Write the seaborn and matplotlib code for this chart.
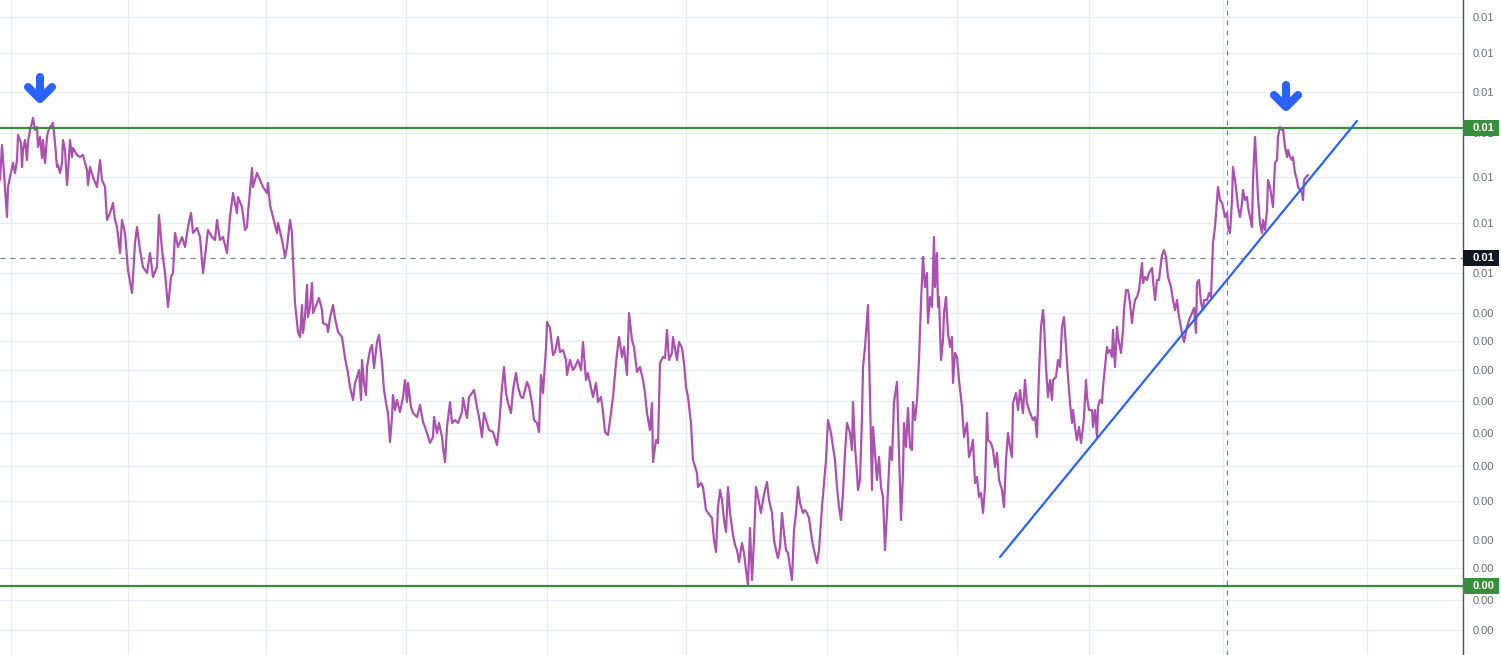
import matplotlib

matplotlib.use("Agg")
import matplotlib.pyplot as plt
import matplotlib.transforms as mtransforms
from matplotlib.patches import Rectangle
import pandas as pd
import seaborn as sns

# bar index of each traced close, and price in units of 1e-4
bars = [
    0, 2, 4, 7, 8, 10, 13, 15, 17, 18, 21, 22, 23, 25, 27, 28, 30, 32, 33, 35,
    37, 38, 40, 42, 43, 45, 47, 48, 50, 52, 53, 55, 57, 58, 60, 62, 63, 65, 67, 68,
    70, 72, 73, 77, 80, 83, 87, 88, 90, 93, 97, 100, 102, 105, 107, 110, 113, 115, 117, 120,
    122, 125, 128, 132, 133, 135, 137, 140, 143, 147, 150, 153, 157, 159, 162, 165, 168, 171, 173, 175,
    178, 182, 185, 188, 191, 193, 197, 200, 203, 205, 208, 212, 215, 217, 220, 223, 227, 230, 233, 237,
    238, 242, 245, 247, 248, 252, 253, 257, 260, 263, 267, 268, 270, 273, 277, 278, 282, 285, 287, 290,
    292, 293, 295, 298, 300, 302, 303, 305, 307, 308, 310, 312, 313, 317, 319, 322, 323, 327, 328, 330,
    333, 335, 338, 342, 345, 348, 350, 353, 355, 357, 359, 361, 362, 364, 366, 367, 370, 372, 374, 377,
    379, 382, 384, 386, 388, 390, 392, 393, 395, 397, 400, 403, 405, 407, 408, 411, 413, 417, 420, 423,
    425, 427, 430, 433, 434, 437, 439, 442, 443, 445, 447, 450, 452, 455, 458, 462, 463, 467, 469, 472,
    474, 477, 479, 482, 484, 487, 489, 493, 497, 499, 502, 504, 506, 508, 511, 513, 516, 518, 521, 523,
    527, 529, 532, 534, 537, 539, 541, 543, 546, 547, 550, 553, 555, 558, 560, 563, 566, 567, 570, 573,
    575, 578, 581, 583, 586, 588, 591, 593, 596, 598, 601, 603, 605, 608, 611, 613, 616, 619, 622, 624,
    627, 629, 632, 634, 637, 640, 643, 645, 647, 650, 652, 653, 656, 658, 660, 663, 665, 667, 669, 672,
    673, 677, 679, 682, 684, 686, 688, 691, 693, 697, 698, 701, 703, 706, 708, 712, 714, 716, 718, 720,
    722, 724, 726, 728, 730, 733, 735, 737, 739, 742, 744, 746, 748, 750, 752, 754, 756, 758, 761, 763,
    765, 767, 769, 772, 774, 776, 778, 780, 782, 784, 786, 788, 790, 792, 794, 796, 798, 800, 803, 805,
    807, 809, 812, 814, 817, 819, 822, 824, 826, 828, 831, 833, 835, 837, 839, 841, 843, 845, 847, 850,
    852, 853, 855, 857, 858, 860, 862, 863, 865, 868, 869, 872, 873, 875, 877, 879, 881, 883, 885, 887,
    888, 890, 892, 894, 897, 899, 901, 903, 904, 906, 908, 910, 912, 913, 915, 917, 919, 921, 923, 925,
    927, 928, 930, 932, 934, 935, 937, 938, 939, 941, 943, 944, 946, 948, 950, 952, 953, 955, 957, 959,
    962, 964, 967, 969, 971, 973, 975, 977, 979, 981, 983, 985, 987, 988, 991, 993, 995, 997, 999, 1002,
    1004, 1006, 1008, 1010, 1012, 1013, 1016, 1018, 1020, 1023, 1025, 1027, 1029, 1030, 1033, 1035, 1037, 1039, 1041, 1043,
    1044, 1046, 1048, 1050, 1052, 1053, 1056, 1058, 1060, 1062, 1064, 1066, 1068, 1070, 1072, 1073, 1075, 1077, 1079, 1081,
    1083, 1084, 1086, 1087, 1089, 1092, 1093, 1095, 1097, 1098, 1100, 1102, 1103, 1105, 1107, 1108, 1110, 1112, 1113, 1115,
    1117, 1118, 1121, 1123, 1124, 1126, 1128, 1130, 1132, 1133, 1135, 1137, 1139, 1142, 1143, 1145, 1147, 1149, 1152, 1153,
    1155, 1157, 1159, 1162, 1164, 1166, 1168, 1171, 1173, 1175, 1177, 1179, 1182, 1184, 1187, 1189, 1192, 1194, 1196, 1197,
    1199, 1201, 1203, 1204, 1207, 1209, 1211, 1213, 1215, 1217, 1218, 1220, 1222, 1223, 1225, 1227, 1228, 1230, 1232, 1233,
    1235, 1237, 1238, 1240, 1242, 1243, 1245, 1247, 1248, 1250, 1252, 1253, 1255, 1257, 1258, 1260, 1262, 1263, 1265, 1267,
    1268, 1270, 1272, 1273, 1275, 1277, 1278, 1280, 1282, 1283, 1285, 1287, 1288, 1290, 1292, 1293, 1295, 1297, 1298, 1300,
    1302, 1303, 1304, 1306, 1308,
]
price_e4 = [
    55.5, 57.25, 55.85, 53.65, 55.15, 55.65, 56.35, 55.85, 56.5, 57.75, 57.35, 56.15, 57.0, 57.5, 56.5, 57.4, 58.0, 58.35, 58.6, 58.0,
    58.15, 57.15, 57.65, 56.6, 57.5, 56.35, 57.65, 57.9, 58.15, 58.25, 58.35, 57.35, 56.15, 56.25, 55.85, 56.35, 57.5, 57.0, 55.25, 55.85,
    57.5, 56.65, 57.1, 56.75, 56.65, 56.75, 56.0, 55.25, 56.15, 55.65, 55.15, 56.5, 55.5, 55.15, 53.5, 53.85, 54.35, 53.5, 53.15, 51.85,
    53.5, 52.85, 51.0, 49.85, 50.65, 52.35, 53.15, 52.0, 51.15, 50.85, 51.85, 50.65, 51.15, 53.75, 52.0, 50.85, 49.15, 50.65, 50.85, 52.85,
    52.15, 52.65, 52.15, 53.15, 53.85, 52.85, 53.1, 52.65, 50.85, 51.65, 53.0, 52.65, 52.5, 53.5, 52.5, 52.65, 51.85, 53.65, 54.85, 53.85,
    54.65, 54.15, 53.0, 53.15, 53.85, 56.1, 55.15, 55.85, 55.5, 55.15, 54.85, 55.35, 54.25, 53.65, 52.85, 53.35, 52.5, 51.65, 52.15, 53.5,
    52.85, 51.5, 49.35, 47.9, 47.65, 49.25, 47.85, 48.65, 50.25, 48.65, 49.15, 50.35, 48.85, 49.35, 49.6, 49.0, 48.35, 48.25, 47.9, 48.6,
    49.25, 48.6, 47.9, 47.65, 46.6, 45.85, 45.15, 44.5, 45.35, 45.65, 46.0, 44.5, 46.5, 45.35, 44.75, 46.15, 47.0, 47.25, 46.1, 47.4,
    47.75, 46.35, 45.0, 44.35, 43.85, 42.4, 43.65, 44.75, 44.0, 44.5, 43.9, 44.65, 45.5, 44.4, 45.35, 44.15, 43.85, 43.65, 44.25, 43.4,
    43.15, 42.85, 42.35, 42.65, 43.65, 42.85, 43.35, 42.65, 42.15, 41.4, 43.15, 44.4, 43.35, 43.5, 43.35, 43.9, 44.6, 43.6, 44.65, 44.85,
    45.0, 44.15, 43.65, 42.65, 43.85, 43.35, 43.0, 42.9, 42.25, 43.15, 45.15, 46.15, 44.85, 44.35, 43.85, 45.0, 45.85, 45.15, 44.65, 44.6,
    45.4, 45.15, 44.35, 43.5, 43.35, 42.9, 45.75, 44.85, 47.1, 48.4, 48.1, 46.75, 46.9, 47.65, 46.9, 47.0, 46.5, 45.75, 46.5, 46.0,
    46.15, 46.5, 46.0, 47.4, 45.5, 45.85, 45.1, 44.65, 45.35, 44.4, 44.65, 43.9, 42.9, 42.75, 43.85, 44.65, 46.35, 47.65, 46.65, 47.15,
    45.75, 48.85, 47.5, 47.15, 45.9, 46.15, 45.5, 44.85, 43.85, 43.0, 44.35, 41.4, 42.5, 42.35, 46.35, 46.65, 46.6, 48.0, 46.5, 46.85,
    47.65, 46.5, 47.4, 47.1, 46.35, 45.15, 44.65, 43.35, 41.5, 40.85, 40.15, 40.35, 40.15, 39.0, 38.85, 38.6, 37.5, 36.9, 39.15, 40.0,
    39.5, 38.5, 37.9, 40.15, 38.85, 37.75, 37.25, 37.0, 36.4, 37.35, 36.85, 36.0, 35.25, 38.1, 35.5, 37.5, 40.15, 39.65, 38.85, 39.5,
    40.0, 40.4, 39.5, 38.85, 37.5, 37.0, 36.6, 37.15, 38.85, 37.85, 37.0, 36.85, 36.15, 35.5, 38.0, 38.85, 40.15, 39.35, 38.85, 39.0,
    38.85, 38.6, 37.5, 37.0, 36.35, 37.0, 39.15, 40.35, 41.5, 43.5, 42.85, 42.15, 41.5, 40.15, 39.15, 38.5, 39.85, 41.85, 43.35, 42.85,
    42.0, 44.4, 42.15, 40.85, 40.0, 40.5, 43.65, 46.15, 47.15, 49.25, 47.0, 40.0, 43.15, 41.85, 40.5, 41.65, 40.15, 39.65, 37.0, 38.85,
    40.0, 42.15, 41.5, 44.4, 45.4, 41.85, 38.5, 40.85, 43.35, 42.15, 44.1, 42.15, 42.0, 44.4, 43.5, 44.5, 46.5, 49.35, 51.65, 50.15,
    50.85, 48.35, 49.65, 49.15, 52.65, 50.15, 51.85, 49.15, 49.65, 46.5, 47.5, 48.85, 49.65, 47.85, 47.15, 47.65, 45.35, 46.85, 46.65, 45.5,
    44.15, 42.65, 43.35, 41.65, 42.0, 42.5, 40.35, 40.65, 39.65, 39.85, 38.85, 40.15, 43.85, 42.5, 42.35, 42.0, 41.15, 41.85, 40.5, 40.0,
    39.15, 41.5, 42.85, 42.15, 41.65, 44.35, 44.85, 44.0, 45.0, 43.85, 45.5, 44.35, 44.0, 43.85, 43.5, 43.65, 42.65, 45.85, 48.15, 49.0,
    48.35, 46.15, 44.65, 45.5, 44.5, 45.5, 45.65, 46.5, 46.15, 48.15, 48.65, 47.15, 45.65, 44.35, 43.35, 44.0, 43.15, 42.5, 43.15, 42.35,
    43.15, 43.65, 45.5, 44.65, 44.0, 44.0, 43.15, 44.0, 42.65, 44.15, 44.5, 44.35, 45.15, 46.15, 47.15, 46.85, 47.0, 46.65, 48.0, 46.15,
    48.15, 47.65, 46.85, 48.0, 49.0, 50.0, 50.0, 49.35, 48.35, 48.85, 49.5, 49.65, 50.0, 51.35, 50.35, 50.65, 50.5, 50.85, 51.1, 50.5,
    49.5, 50.5, 50.5, 51.75, 52.0, 51.65, 50.65, 50.15, 49.5, 49.0, 49.5, 48.65, 47.85, 47.4, 48.15, 48.5, 48.85, 49.1, 47.85, 50.35,
    50.5, 49.35, 49.0, 49.5, 49.5, 49.85, 49.65, 52.35, 53.15, 54.5, 55.15, 54.5, 54.35, 54.15, 53.65, 53.85, 53.15, 52.85, 54.5, 56.15,
    55.5, 54.65, 54.15, 53.65, 54.35, 55.0, 54.5, 54.65, 54.15, 53.65, 53.15, 55.5, 57.65, 55.65, 54.65, 53.35, 52.85, 53.5, 53.0, 54.0,
    55.5, 55.15, 54.5, 54.15, 56.35, 56.5, 57.65, 58.15, 58.0, 58.1, 57.15, 56.65, 57.0, 56.65, 56.5, 56.65, 55.85, 55.5, 55.15, 55.0,
    54.85, 54.5, 55.5, 55.65, 55.75,
]

# horizontal levels, trend line and markers (price in units of 1e-4)
resistance = 58.1
support = 35.2
last_price = 51.6
crosshair_bar = 1227
trend_bars = [1000, 1357]
trend_prices = [36.65, 58.45]
arrow_bars = [40, 1286]
arrow_tips = [59.55, 59.15]

y_ticks = [63.65, 61.85, 59.9, 57.85, 55.65, 53.35, 50.85, 48.85, 47.45, 46.0,
           44.45, 42.85, 41.2, 39.45, 37.5, 36.1, 34.5, 33.0]
x_grid = [11, 128, 266, 406, 547, 686, 827, 957, 1089, 1223, 1367]

PURPLE = "#ab52b0"
GREEN = "#388e3c"
BLUE = "#2962ff"
DASH = "#758696"
GRID = "#e6ecf2"

sns.set_theme(style="white")
plt.rcParams["font.family"] = ["Liberation Sans", "DejaVu Sans"]

fig = plt.figure(figsize=(15.01, 6.55), dpi=100)
ax = fig.add_axes([0, 0, 1463 / 1501, 1])

df = pd.DataFrame({"bar": bars, "price": price_e4})
sns.lineplot(data=df, x="bar", y="price", ax=ax, color=PURPLE, lw=1.6,
             estimator=None, sort=False, zorder=3)

ax.set_xlim(0, 1463)
ax.set_ylim(31.75, 64.5)

# grid
for xv in x_grid:
    ax.axvline(xv, color=GRID, lw=1, zorder=0)
for yv in y_ticks:
    ax.axhline(yv, color=GRID, lw=1, zorder=0)

# levels
ax.axhline(resistance, color=GREEN, lw=1.6, zorder=4)
ax.axhline(support, color=GREEN, lw=1.6, zorder=4)
ax.axhline(last_price, color=DASH, lw=0.9, ls=(0, (4, 4)), zorder=2)
ax.axvline(crosshair_bar, color=DASH, lw=0.9, ls=(0, (4, 4)), zorder=2)

# trend line
sns.lineplot(x=trend_bars, y=trend_prices, ax=ax, color=BLUE, lw=1.6, zorder=5)

# down arrows over the two peaks
for xb, tip in zip(arrow_bars, arrow_tips):
    ax.plot([xb, xb], [tip + 1.1, tip + 0.05], color=BLUE, lw=5.8,
            solid_capstyle="round", zorder=6)
    ax.plot([xb - 12, xb, xb + 12], [tip + 0.6, tip, tip + 0.6], color=BLUE,
            lw=5.8, solid_capstyle="round", solid_joinstyle="round", zorder=6)

# right price scale
ax.yaxis.tick_right()
ax.set_yticks(y_ticks)
ax.set_yticklabels([f"{v / 1e4:.2f}" for v in y_ticks])
ax.tick_params(axis="y", length=0, pad=7, labelsize=8, labelcolor="#6a6d78")
ax.set_xticks([])
ax.set_xlabel("")
ax.set_ylabel("")
for side in ("top", "left", "bottom"):
    ax.spines[side].set_visible(False)
ax.spines["right"].set_color("#50535e")
ax.spines["right"].set_linewidth(1)

trans = mtransforms.blended_transform_factory(ax.transAxes, ax.transData)
for val, col in [(resistance, GREEN), (last_price, "#131722"), (support, GREEN)]:
    ax.add_patch(Rectangle((1.0, val - 0.42), 36 / 1463, 0.84, transform=trans,
                           facecolor=col, edgecolor="none", clip_on=False, zorder=7))
    ax.text(1.0 + 10 / 1463, val, f"{val / 1e4:.2f}", transform=trans, ha="left",
            va="center", color="white", fontsize=8, fontweight="bold", zorder=8)

fig.savefig("out.png", dpi=100, facecolor="white")
